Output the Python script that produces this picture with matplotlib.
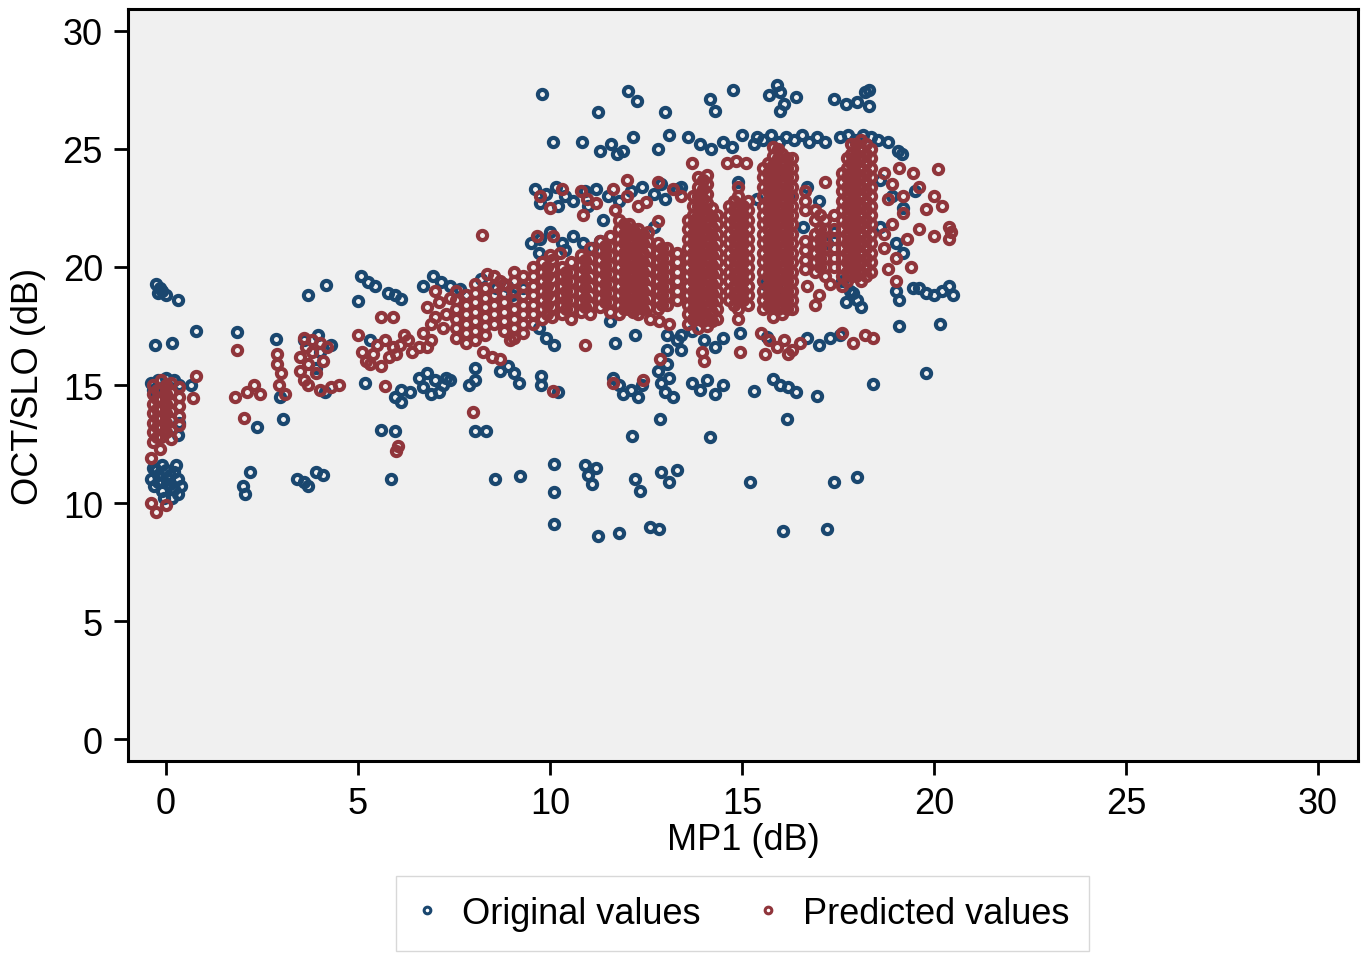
import matplotlib
matplotlib.use("Agg")
import matplotlib.pyplot as plt
from matplotlib.lines import Line2D

plt.rcParams['font.family'] = ['Liberation Sans', 'DejaVu Sans']

BLUE = "#1a476f"
RED = "#90353b"

# ---------------- Original values (MP1 dB, OCT/SLO dB) ----------------
orig_near0 = [
    (-0.25, 19.3), (-0.15, 19.1), (-0.2, 18.9), (0.0, 18.8), (-0.1, 19.0), (0.3, 18.6),
    (-0.29, 16.7), (0.16, 16.8), (0.78, 17.3),
    (-0.4, 15.1), (-0.2, 15.2), (0.0, 15.3), (0.2, 15.2), (0.35, 15.0), (-0.35, 14.8),
    (0.66, 15.0), (0.3, 12.9), (0.35, 13.4),
    (-0.4, 11.0), (-0.2, 11.2), (0.0, 11.4), (0.2, 11.3), (0.3, 11.0), (-0.3, 10.7),
    (-0.1, 10.5), (0.1, 10.8), (0.3, 10.4), (0.15, 10.2), (-0.35, 11.5), (0.05, 11.0),
    (-0.1, 11.6), (0.4, 10.7), (-0.2, 10.9), (0.2, 10.6), (-0.05, 10.2), (0.25, 11.6),
    (-0.25, 11.4), (0.1, 11.2),
]
orig_2to5 = [
    (1.85, 17.25), (2.0, 10.7), (2.06, 10.4), (2.19, 11.3), (2.37, 13.2), (2.86, 16.95),
    (2.97, 14.5), (3.05, 13.55), (3.4, 11.0), (3.6, 10.9), (3.7, 10.7), (3.9, 11.3),
    (4.1, 11.2), (3.7, 18.8), (4.17, 19.25), (3.96, 17.1), (4.3, 16.7), (3.9, 15.7),
    (4.14, 14.7), (4.0, 16.4), (3.6, 16.9),
]
orig_5to10 = [
    (5.08, 19.6), (5.26, 19.35), (5.44, 19.2), (5.0, 18.55), (5.78, 18.9), (5.96, 18.8),
    (6.12, 18.65), (5.3, 16.9), (5.18, 15.1), (5.96, 14.5), (6.12, 14.3), (6.12, 14.8),
    (6.35, 14.7), (5.6, 13.1), (5.96, 13.05), (5.86, 11.0),
    (6.6, 15.3), (6.8, 15.5), (7.0, 15.2), (7.2, 15.0), (6.7, 14.9), (6.9, 14.6),
    (7.1, 14.7), (7.3, 15.3), (7.4, 15.2),
    (6.7, 19.2), (6.95, 19.6), (7.16, 19.35), (7.4, 19.2), (7.66, 19.07), (7.8, 18.8),
    (8.2, 19.5), (8.6, 19.1), (8.88, 19.2), (9.0, 18.8), (9.3, 19.1),
    (8.05, 15.7), (8.05, 15.2), (7.9, 15.0), (8.05, 13.05), (8.33, 13.05), (8.57, 11.0),
    (9.22, 11.15), (8.7, 15.6), (8.9, 15.8), (9.05, 15.5), (9.2, 15.1), (9.77, 15.4),
    (9.77, 15.0), (10.2, 14.7),
]
orig_upper = [
    (9.79, 27.33), (12.03, 27.46), (12.27, 27.03), (11.25, 26.57), (13.0, 26.57),
    (14.17, 27.1), (14.3, 26.6), (14.77, 27.5),
    (10.08, 25.3), (10.83, 25.3), (11.3, 24.9), (11.6, 25.2), (11.75, 24.8), (11.9, 24.9),
    (12.16, 25.5), (12.8, 25.0), (13.1, 25.6), (13.6, 25.5), (13.9, 25.2), (14.2, 25.0),
    (14.5, 25.3), (14.75, 25.1), (15.0, 25.6), (15.3, 25.2),
    (9.6, 23.3), (9.9, 23.1), (10.15, 23.4), (10.4, 23.0), (10.6, 22.8), (10.9, 23.2),
    (11.2, 23.3), (11.5, 23.0), (11.8, 22.8), (12.1, 23.2), (12.4, 23.4), (12.7, 23.1),
    (13.0, 22.9), (13.3, 23.3), (11.0, 22.6), (12.9, 23.5), (11.38, 22.0), (9.75, 22.7),
    (10.2, 22.6),
    (9.5, 21.0), (9.75, 21.2), (10.0, 21.5), (10.3, 21.0), (10.6, 21.3), (10.85, 21.0),
    (11.1, 20.8), (11.3, 21.1), (10.4, 20.7), (12.7, 21.7), (9.7, 20.6),
    (13.4, 23.4), (13.9, 22.6), (14.9, 23.6), (15.4, 22.9), (14.2, 21.6),
]
orig_right = [
    (15.7, 27.3), (15.9, 27.7), (16.0, 27.4), (16.1, 26.9), (16.0, 26.6), (16.4, 27.2),
    (17.4, 27.1), (17.7, 26.9), (18.0, 27.0), (18.2, 27.4), (18.3, 26.8), (18.3, 27.5),
    (15.55, 25.4), (15.75, 25.6), (15.95, 25.3), (16.15, 25.5), (16.35, 25.4), (16.55, 25.6),
    (16.75, 25.3), (16.95, 25.5), (17.15, 25.3), (17.55, 25.5), (17.75, 25.6), (17.95, 25.4),
    (18.15, 25.6), (18.35, 25.5), (18.55, 25.4), (18.8, 25.3), (19.05, 24.9), (19.17, 24.8),
    (15.4, 25.5),
    (16.7, 23.4), (17.0, 22.8), (16.6, 21.7), (17.2, 21.0), (17.4, 21.5), (15.9, 23.8),
    (16.25, 23.0),
    (17.6, 19.4), (17.8, 19.0), (18.0, 18.6), (18.1, 18.3), (17.7, 18.5), (17.9, 18.9),
    (18.6, 23.7), (18.9, 23.0), (19.2, 22.5), (19.5, 23.2), (18.6, 21.7), (19.0, 21.0),
    (19.2, 20.6), (19.0, 19.0), (19.45, 19.1),
    (19.6, 19.1), (19.8, 18.9), (20.0, 18.8), (20.2, 19.0), (20.4, 19.2), (20.5, 18.8),
    (19.1, 18.6), (19.1, 17.5), (20.15, 17.6), (19.8, 15.5),
    (15.6, 19.3), (15.9, 18.8), (16.1, 19.1),
]
orig_lower = [
    (9.7, 17.4), (9.9, 17.0), (10.1, 16.7), (11.7, 16.8), (12.2, 17.1), (13.05, 17.1),
    (13.05, 16.5), (13.05, 15.9), (13.3, 16.9), (11.55, 17.7), (13.4, 16.5),
    (11.65, 15.3), (11.8, 15.0), (11.9, 14.6), (12.1, 14.8), (12.3, 14.5), (12.4, 15.0),
    (12.8, 15.6), (12.9, 15.1), (13.0, 14.7), (13.2, 14.5), (13.1, 15.3),
    (13.7, 15.1), (13.9, 14.8), (14.1, 15.2), (14.3, 14.6), (14.5, 15.0),
    (12.87, 13.56), (12.13, 12.84), (14.17, 12.8),
    (10.1, 11.65), (10.1, 10.45), (10.9, 11.6), (11.0, 11.2), (11.1, 10.8), (11.2, 11.5),
    (12.2, 11.0), (12.35, 10.5), (12.9, 11.3), (13.1, 10.9), (13.3, 11.4),
    (10.1, 9.1), (11.25, 8.6), (11.8, 8.75), (12.6, 9.0), (12.85, 8.9),
    (13.4, 17.1), (13.7, 17.3), (14.0, 16.9), (14.3, 16.6), (14.5, 17.0), (14.95, 17.2),
    (16.7, 17.0), (17.0, 16.7), (17.3, 17.0), (17.55, 17.1), (15.65, 17.05),
    (15.8, 15.25), (16.0, 15.0), (16.2, 14.9), (16.4, 14.7), (16.95, 14.55), (15.3, 14.75),
    (18.4, 15.05),
    (16.17, 13.56), (15.2, 10.9), (17.4, 10.9), (18.0, 11.1), (16.07, 8.8), (17.2, 8.9),
]

# ---------------- Predicted values ----------------
# dense groups: MP1 value -> list of predicted OCT/SLO values
pred_near0_cols = {
    -0.35: [15.0, 14.6, 14.2, 13.8, 13.4, 13.0, 12.6],
    -0.23: [14.8, 14.4, 14.0, 13.6, 13.2, 12.8],
    -0.12: [15.2, 14.8, 14.4, 14.0, 13.6, 13.2, 12.8],
    0.0: [15.0, 14.6, 14.2, 13.8, 13.4, 13.0],
    0.12: [15.1, 14.7, 14.3, 13.9, 13.5, 13.1, 12.7],
    0.35: [14.9, 14.5, 14.1, 13.7, 13.3],
}
pred_band_cols = {
    7.55: [17.0, 17.4, 17.8, 18.2, 18.6, 19.0],
    7.8: [16.8, 17.2, 17.6, 18.0, 18.4, 18.8],
    8.05: [16.9, 17.3, 17.7, 18.1, 18.5, 18.9, 19.3],
    8.3: [17.1, 17.5, 17.9, 18.3, 18.7, 19.1],
    8.55: [17.6, 18.0, 18.4, 18.8, 19.2, 19.6],
    8.8: [17.3, 17.7, 18.1, 18.5, 18.9, 19.3],
    9.05: [17.0, 17.4, 17.8, 18.2, 18.6, 19.0, 19.4, 19.8],
    9.3: [17.2, 17.6, 18.0, 18.4, 18.8, 19.2, 19.6],
    9.55: [17.6, 18.0, 18.4, 18.8, 19.2, 19.6, 20.0],
    9.8: [17.8, 18.2, 18.6, 19.0, 19.4, 19.8, 20.2],
    10.05: [17.9, 18.3, 18.7, 19.1, 19.5, 19.9, 20.3],
    10.3: [18.0, 18.4, 18.8, 19.2, 19.6, 20.0],
    10.55: [17.8, 18.2, 18.6, 19.0, 19.4, 19.8, 20.2],
    10.8: [18.1, 18.5, 18.9, 19.3, 19.7, 20.1, 20.5],
    11.05: [18.0, 18.4, 18.8, 19.2, 19.6, 20.0, 20.4, 20.8],
    11.3: [18.3, 18.7, 19.1, 19.5, 19.9, 20.3, 20.7, 21.1],
    11.55: [18.1, 18.5, 18.9, 19.3, 19.7, 20.1, 20.5, 20.9, 21.3],
    11.8: [18.0, 18.4, 18.8, 19.2, 19.6, 20.0, 20.4, 20.8, 21.2, 21.6, 22.0],
    12.05: [18.2, 18.6, 19.0, 19.4, 19.8, 20.2, 20.6, 21.0, 21.4, 21.8],
    12.3: [18.0, 18.4, 18.8, 19.2, 19.6, 20.0, 20.4, 20.8, 21.2, 21.6],
    12.55: [18.3, 18.7, 19.1, 19.5, 19.9, 20.3, 20.7, 21.1, 21.5],
    12.8: [18.2, 18.6, 19.0, 19.4, 19.8, 20.2, 20.6, 21.0],
    13.05: [18.4, 18.8, 19.2, 19.6, 20.0, 20.4, 20.8],
    13.3: [18.6, 19.0, 19.4, 19.8, 20.2, 20.6],
}
pred_band_fill = {
    9.92: [18.0, 18.4, 18.8, 19.2, 19.6, 20.0],
    10.42: [18.2, 18.6, 19.0, 19.4, 19.8],
    10.92: [18.3, 18.7, 19.1, 19.5, 19.9, 20.3],
    11.42: [18.5, 18.9, 19.3, 19.7, 20.1, 20.5, 20.9],
    11.92: [18.2, 18.6, 19.0, 19.4, 19.8, 20.2, 20.6, 21.0, 21.4, 21.8],
    12.17: [18.4, 18.8, 19.2, 19.6, 20.0, 20.4, 20.8, 21.2, 21.6],
    12.42: [18.2, 18.6, 19.0, 19.4, 19.8, 20.2, 20.6, 21.0, 21.4],
    12.92: [18.4, 18.8, 19.2, 19.6, 20.0, 20.4, 20.8],
}
pred_high_cols = {
    13.6: [17.6, 18.0, 18.4, 18.8, 19.2, 19.6, 20.0, 20.4, 20.8, 21.2, 21.6, 22.0],
    13.85: [17.4, 17.8, 18.2, 18.6, 19.0, 19.4, 19.8, 20.2, 20.6, 21.0, 21.4, 21.8, 22.2,
            22.6, 23.0, 23.4, 23.8],
    14.1: [17.5, 17.9, 18.3, 18.7, 19.1, 19.5, 19.9, 20.3, 20.7, 21.1, 21.5, 21.9, 22.3,
           22.7, 23.1, 23.5, 23.9],
    14.35: [17.8, 18.2, 18.6, 19.0, 19.4, 19.8, 20.2, 20.6, 21.0, 21.4, 21.8, 22.2],
    14.65: [18.6, 19.0, 19.4, 19.8, 20.2, 20.6, 21.0, 21.4, 21.8, 22.2, 22.6],
    14.9: [17.8, 18.2, 18.6, 19.0, 19.4, 19.8, 20.2, 20.6, 21.0, 21.4, 21.8, 22.2, 22.6,
           23.0, 23.4],
    15.15: [18.4, 18.8, 19.2, 19.6, 20.0, 20.4, 20.8, 21.2, 21.6, 22.0, 22.4, 22.8],
    15.55: [18.2, 18.6, 19.0, 19.4, 19.8, 20.2, 20.6, 21.0, 21.4, 21.8, 22.2, 22.6, 23.0,
            23.4, 23.8, 24.2],
    15.8: [17.9, 18.3, 18.7, 19.1, 19.5, 19.9, 20.3, 20.7, 21.1, 21.5, 21.9, 22.3, 22.7,
           23.1, 23.5, 23.9, 24.3, 24.7, 25.1],
    16.05: [18.0, 18.4, 18.8, 19.2, 19.6, 20.0, 20.4, 20.8, 21.2, 21.6, 22.0, 22.4, 22.8,
            23.2, 23.6, 24.0, 24.4, 24.8],
    16.3: [18.2, 18.6, 19.0, 19.4, 19.8, 20.2, 20.6, 21.0, 21.4, 21.8, 22.2, 22.6, 23.0,
           23.4, 23.8, 24.2, 24.6],
    16.65: [19.9, 20.3, 20.7, 21.1, 22.4, 22.8, 23.2],
    16.9: [19.8, 20.2, 20.6, 21.0, 21.4, 22.0, 22.4],
    17.15: [19.6, 20.0, 20.4, 20.8, 21.2, 21.6, 22.0, 23.6],
    17.4: [20.0, 20.4, 20.8, 21.2, 21.6, 22.2],
    17.6: [19.2, 19.6, 20.0, 20.4, 20.8, 21.2, 21.6, 22.0, 22.4, 22.8, 23.2, 23.6, 24.0],
    17.85: [19.6, 20.0, 20.4, 20.8, 21.2, 21.6, 22.0, 22.4, 22.8, 23.2, 23.6, 24.0, 24.4,
            24.8, 25.2],
    18.1: [19.4, 19.8, 20.2, 20.6, 21.0, 21.4, 21.8, 22.2, 22.6, 23.0, 23.4, 23.8, 24.2,
           24.6, 25.0, 25.4],
    18.35: [19.8, 20.2, 20.6, 21.0, 21.4, 21.8, 22.2, 22.6, 23.0, 23.4, 23.8, 24.2, 24.6,
            25.0],
}
pred_high_fill = {
    13.73: [17.8, 18.2, 18.6, 19.0, 19.4, 19.8, 20.2, 20.6, 21.0, 21.4, 21.8, 22.2, 22.6,
            23.0],
    13.98: [17.7, 18.1, 18.5, 18.9, 19.3, 19.7, 20.1, 20.5, 20.9, 21.3, 21.7, 22.1, 22.5,
            22.9, 23.3, 23.7],
    14.22: [17.7, 18.1, 18.5, 18.9, 19.3, 19.7, 20.1, 20.5, 20.9, 21.3, 21.7, 22.1, 22.5],
    14.78: [18.4, 18.8, 19.2, 19.6, 20.0, 20.4, 20.8, 21.2, 21.6, 22.0, 22.4, 22.8],
    15.03: [18.6, 19.0, 19.4, 19.8, 20.2, 20.6, 21.0, 21.4, 21.8, 22.2, 22.6],
    15.68: [18.4, 18.8, 19.2, 19.6, 20.0, 20.4, 20.8, 21.2, 21.6, 22.0, 22.4, 22.8, 23.2,
            23.6, 24.0, 24.4],
    15.93: [18.2, 18.6, 19.0, 19.4, 19.8, 20.2, 20.6, 21.0, 21.4, 21.8, 22.2, 22.6, 23.0,
            23.4, 23.8, 24.2, 24.6, 25.0],
    16.18: [18.2, 18.6, 19.0, 19.4, 19.8, 20.2, 20.6, 21.0, 21.4, 21.8, 22.2, 22.6, 23.0,
            23.4, 23.8, 24.2, 24.6],
    17.03: [20.0, 20.4, 20.8, 21.2, 21.6, 22.2],
    17.73: [19.4, 19.8, 20.2, 20.6, 21.0, 21.4, 21.8, 22.2, 22.6, 23.0, 23.4, 23.8, 24.2,
            24.6],
    17.98: [19.6, 20.0, 20.4, 20.8, 21.2, 21.6, 22.0, 22.4, 22.8, 23.2, 23.6, 24.0, 24.4,
            24.8, 25.2],
    18.23: [19.6, 20.0, 20.4, 20.8, 21.2, 21.6, 22.0, 22.4, 22.8, 23.2, 23.6, 24.0, 24.4,
            24.8, 25.2],
}
pred_scatter = [
    (-0.16, 12.3), (-0.4, 11.9), (-0.4, 10.0), (0.0, 9.9), (-0.26, 9.6), (0.78, 15.4),
    (0.7, 14.45),
    (1.85, 16.5), (2.03, 13.6), (1.8, 14.5), (2.1, 14.7), (2.3, 15.0), (2.45, 14.6),
    (2.9, 16.3), (2.9, 15.9), (3.0, 15.5), (2.95, 15.0), (3.1, 14.6),
    (3.6, 17.0), (3.8, 16.9), (4.0, 16.8), (4.2, 16.6), (3.5, 16.2), (3.7, 15.9),
    (3.9, 15.5), (3.6, 15.2), (4.0, 14.8), (4.3, 14.9), (4.5, 15.0), (3.8, 16.4),
    (4.1, 16.0), (3.7, 15.0), (3.65, 16.6), (3.5, 15.6),
    (5.0, 17.1), (5.1, 16.4), (5.2, 16.0), (5.4, 16.3), (5.5, 16.7), (5.7, 16.9),
    (5.9, 16.6), (6.1, 16.7), (6.3, 16.9), (6.0, 16.3), (5.8, 16.2), (6.4, 16.4),
    (6.6, 16.6), (5.3, 15.9), (5.6, 15.8), (6.2, 17.1), (5.6, 17.9), (5.9, 17.9),
    (5.7, 14.95), (6.04, 12.4), (6.0, 12.2),
    (6.8, 18.3), (7.0, 17.9), (6.7, 17.2), (6.9, 17.6), (7.1, 18.5), (7.3, 18.0),
    (7.2, 17.4), (6.9, 16.9), (7.4, 18.7), (7.0, 19.0), (6.8, 16.6),
    (8.0, 13.85), (8.23, 21.35), (8.36, 19.7), (8.7, 19.4),
    (8.25, 16.4), (8.5, 16.2), (8.96, 16.9), (8.7, 16.1), (10.08, 14.75), (10.9, 16.7),
    (11.65, 15.1), (12.43, 15.2), (12.87, 16.1), (12.6, 17.8), (12.85, 17.7), (13.1, 17.6),
    (12.16, 18.1),
    (9.74, 23.0), (10.0, 22.5), (10.3, 23.3), (10.8, 23.2), (10.95, 22.9), (10.86, 22.2),
    (11.2, 22.7), (11.65, 23.3), (12.0, 23.7), (12.0, 23.0), (12.3, 22.6), (12.5, 22.75),
    (12.8, 23.6), (13.2, 23.3), (12.8, 21.95), (11.7, 22.4), (13.4, 23.0),
    (9.66, 21.3), (10.08, 21.3), (10.0, 20.5), (10.26, 20.6),
    (13.7, 24.4), (14.6, 24.4), (14.85, 24.5), (15.1, 24.4),
    (14.95, 16.4), (13.95, 16.4), (14.0, 16.0), (15.5, 17.2), (15.7, 16.9), (15.9, 16.6),
    (16.1, 16.9), (16.3, 16.5), (16.5, 16.8), (15.6, 16.3), (16.2, 16.3),
    (17.6, 17.2), (17.9, 16.8), (18.2, 17.1), (18.4, 17.0),
    (16.7, 19.2), (17.0, 18.8), (17.3, 19.3), (16.9, 18.4),
    (18.7, 24.0), (18.9, 23.5), (19.1, 24.2), (18.8, 22.9), (19.2, 22.3), (18.9, 21.8),
    (19.3, 21.2), (18.7, 20.8), (19.0, 20.4), (19.2, 23.0), (18.8, 19.9), (19.0, 19.4),
    (19.4, 20.0), (18.7, 21.4),
    (20.1, 24.15), (19.6, 23.4), (20.0, 23.0), (19.8, 22.45), (20.2, 22.6), (19.6, 21.6),
    (20.0, 21.3), (20.4, 21.7), (20.4, 21.2), (20.45, 21.5), (19.45, 24.0),
]

legend_labels = ["Original values", "Predicted values"]
x_label = "MP1 (dB)"
y_label = "OCT/SLO (dB)"
ticks = [0, 5, 10, 15, 20, 25, 30]

# ---------------- assemble ----------------
orig = orig_near0 + orig_2to5 + orig_5to10 + orig_upper + orig_right + orig_lower
ox = [p[0] for p in orig]
oy = [p[1] for p in orig]

pred = list(pred_scatter)
for cols in (pred_near0_cols, pred_band_cols, pred_band_fill, pred_high_cols,
             pred_high_fill):
    for xv, ys in cols.items():
        pred += [(xv, yv) for yv in ys]
px = [p[0] for p in pred]
py = [p[1] for p in pred]

W, H = 1363, 954
fig = plt.figure(figsize=(W / 100, H / 100), dpi=100)
ax = fig.add_axes([128 / W, 192 / H, 1230 / W, 752 / H])
ax.set_facecolor("#f0f0f0")

ms, mew = 6.6, 3.0
ax.plot(ox, oy, ls="none", marker="o", ms=ms, mfc="none", mec=BLUE, mew=mew)
ax.plot(px, py, ls="none", marker="o", ms=ms, mfc="none", mec=RED, mew=mew)

ax.set_xlim(-0.99, 31.04)
ax.set_ylim(-0.93, 30.93)
ax.set_xticks(ticks)
ax.set_yticks(ticks)
ax.tick_params(direction="out", length=10, width=2, pad=8, labelsize=26, colors="black")
for s in ax.spines.values():
    s.set_linewidth(2.2)
    s.set_color("black")

ax.set_xlabel(x_label, fontsize=26, labelpad=1)
ax.set_ylabel(y_label, fontsize=26, labelpad=12)

handles = [
    Line2D([], [], ls="none", marker="o", ms=4.8, mfc="none", mec=BLUE, mew=2.2),
    Line2D([], [], ls="none", marker="o", ms=4.8, mfc="none", mec=RED, mew=2.2),
]
leg = fig.legend(handles, legend_labels, loc="upper center",
                 bbox_to_anchor=(742.5 / W, 1 - 877 / H), ncol=2, fontsize=26,
                 frameon=True, fancybox=False, framealpha=1, edgecolor="#d8d8d8",
                 borderpad=0.55, borderaxespad=0, handlelength=0.6, handletextpad=0.67,
                 columnspacing=1.58)
leg.get_frame().set_linewidth(1.0)

fig.savefig("out.png", dpi=100)
